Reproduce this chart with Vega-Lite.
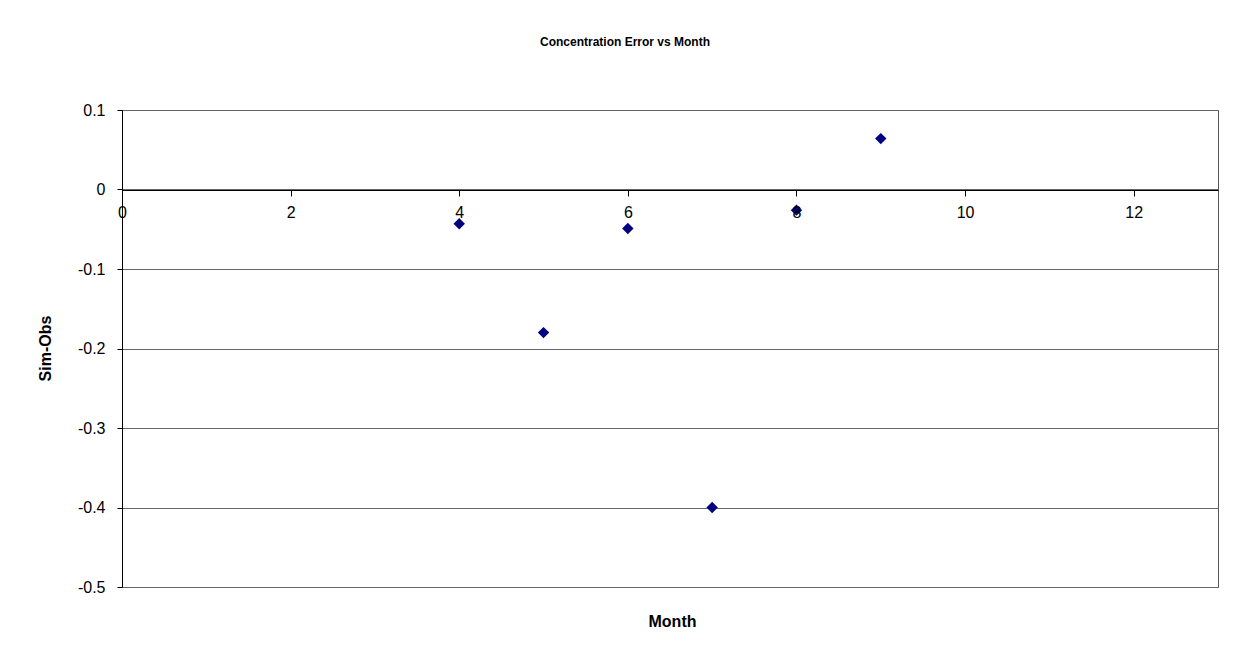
{
  "$schema": "https://vega.github.io/schema/vega-lite/v6.json",
  "width": 1096,
  "height": 477,
  "autosize": {"type": "none"},
  "padding": {"left": 122, "top": 110, "right": 33, "bottom": 81},
  "background": "white",
  "config": {"font": "Liberation Sans", "view": {"stroke": "#555", "strokeWidth": 1}},
  "title": {"text": "Concentration Error vs Month", "fontSize": 12, "fontWeight": "bold", "font": "Liberation Sans", "color": "black", "anchor": "middle", "dx": -45, "offset": 48, "baseline": "middle"},
  "data": {"values": [
    {"month": 4, "err": -0.043},
    {"month": 5, "err": -0.18},
    {"month": 6, "err": -0.049},
    {"month": 7, "err": -0.4},
    {"month": 8, "err": -0.026},
    {"month": 9, "err": 0.064}
  ]},
  "mark": {"type": "point", "shape": "diamond", "filled": true, "size": 130, "color": "#000080", "opacity": 1},
  "encoding": {
    "x": {
      "field": "month", "type": "quantitative",
      "scale": {"domain": [0, 13], "nice": false, "zero": false},
      "axis": {
        "values": [0, 2, 4, 6, 8, 10, 12], "offset": -397, "zindex": 1,
        "domainColor": "black", "tickColor": "black", "tickSize": 6,
        "labelPadding": 8, "labelFontSize": 16, "labelColor": "black", "labelFont": "Liberation Sans", "labelFlush": false,
        "grid": false,
        "title": "Month", "titleFontSize": 16, "titleFontWeight": "bold", "titleColor": "black", "titleFont": "Liberation Sans",
        "titleX": 550, "titleY": 431, "titleBaseline": "middle", "titleAlign": "center"
      }
    },
    "y": {
      "field": "err", "type": "quantitative",
      "scale": {"domain": [-0.5, 0.1], "nice": false, "zero": false},
      "axis": {
        "values": [-0.5, -0.4, -0.3, -0.2, -0.1, 0, 0.1],
        "labelExpr": "replace(format(datum.value, '.1~f'), '\u2212', '-')",
        "domainColor": "black", "tickColor": "black", "tickSize": 5,
        "labelPadding": 12, "labelFontSize": 16, "labelColor": "black", "labelFont": "Liberation Sans",
        "grid": true, "gridColor": "#666", "gridWidth": 1,
        "title": "Sim-Obs", "titleFontSize": 16, "titleFontWeight": "bold", "titleColor": "black", "titleFont": "Liberation Sans",
        "titleX": -77, "titleY": 238, "titleAngle": -90, "titleBaseline": "middle", "titleAlign": "center"
      }
    }
  }
}
